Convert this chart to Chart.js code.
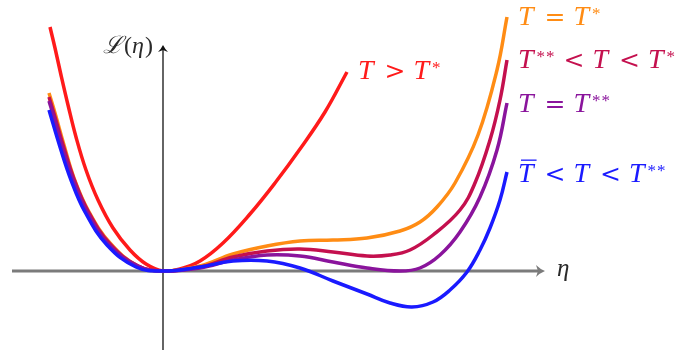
<!DOCTYPE html>
<html>
<head>
<meta charset="utf-8">
<script src="https://cdn.jsdelivr.net/npm/chart.js@4.4.1/dist/chart.umd.min.js"></script>
<style>
  html, body { margin: 0; padding: 0; background: #fff; }
  #wrap { width: 681px; height: 354px; position: relative; }
</style>
</head>
<body>
<div id="wrap"><canvas id="LandauChart"></canvas></div>
<script>
// eta / L(eta) values, one pair of arrays per curve
const etaRed = [-1.13, -1.08, -1.02, -0.95, -0.87, -0.77, -0.65, -0.50, -0.33, -0.17, 0, 0.17, 0.37, 0.60, 0.87, 1.12, 1.37, 1.62, 1.84];
const lossRed = [2.44, 2.23, 1.96, 1.66, 1.34, 1.01, 0.71, 0.43, 0.21, 0.07, 0, 0.02, 0.10, 0.28, 0.57, 0.88, 1.22, 1.59, 1.99];

const etaOrange = [-1.14, -1.08, -0.99, -0.89, -0.75, -0.53, -0.25, 0, 0.37, 0.70, 1.04, 1.37, 1.70, 2.04, 2.37, 2.57, 2.74, 2.92, 3.15, 3.34, 3.44];
const lossOrange = [1.78, 1.58, 1.26, 0.93, 0.61, 0.28, 0.05, 0, 0.05, 0.17, 0.25, 0.30, 0.31, 0.33, 0.40, 0.49, 0.64, 0.88, 1.36, 2.01, 2.54];

const etaCrimson = [-1.14, -1.08, -0.99, -0.89, -0.75, -0.53, -0.25, 0, 0.37, 0.70, 1.04, 1.37, 1.70, 2.04, 2.27, 2.47, 2.70, 2.97, 3.12, 3.27, 3.37, 3.44];
const lossCrimson = [1.74, 1.54, 1.23, 0.92, 0.60, 0.27, 0.05, 0, 0.04, 0.14, 0.20, 0.22, 0.19, 0.15, 0.16, 0.21, 0.36, 0.61, 0.88, 1.31, 1.71, 2.11];

const etaPurple = [-1.14, -1.08, -1.00, -0.90, -0.76, -0.54, -0.25, 0, 0.37, 0.70, 1.04, 1.37, 1.70, 2.04, 2.37, 2.57, 2.77, 2.97, 3.17, 3.34, 3.44];
const lossPurple = [1.70, 1.50, 1.21, 0.91, 0.59, 0.26, 0.05, 0, 0.03, 0.11, 0.16, 0.15, 0.09, 0.03, 0, 0.03, 0.16, 0.39, 0.74, 1.21, 1.68];

const etaBlue = [-1.14, -1.03, -0.92, -0.78, -0.56, -0.27, 0, 0.37, 0.70, 1.04, 1.37, 1.70, 2.04, 2.27, 2.49, 2.70, 2.87, 3.04, 3.17, 3.27, 3.37, 3.44];
const lossBlue = [1.61, 1.24, 0.91, 0.59, 0.26, 0.04, 0, 0.04, 0.10, 0.10, 0.03, -0.10, -0.23, -0.32, -0.36, -0.31, -0.19, -0.01, 0.21, 0.43, 0.71, 0.99];

// curve labels (T = italic, * = superscript, \u0304 = bar over previous T)
const labelTexts = ['T > T*', 'T = T*', 'T** < T < T*', 'T = T**', 'T\u0304 < T < T**'];

const colRed = '#ff1a1a';
const colOrange = '#ff8c14';
const colCrimson = '#c4104e';
const colPurple = '#8a149c';
const colBlue = '#1a1aff';

function pts(xs, ys) {
  return xs.map((v, i) => ({x: v, y: ys[i]}));
}

function drawMath(ctx, text, x, y, color, size) {
  const fam = '"Liberation Serif", "Times New Roman", serif';
  let cx = x;
  let lastT = null;
  ctx.fillStyle = color;
  ctx.strokeStyle = color;
  ctx.textBaseline = 'alphabetic';
  ctx.textAlign = 'left';
  for (const ch of text) {
    if (ch === ' ') {
      cx += 8;
    } else if (ch === '*') {
      ctx.font = '17px ' + fam;
      ctx.fillText('*', cx, y - 6);
      cx += ctx.measureText('*').width + 1;
    } else if (ch === '\u0304') {
      ctx.lineWidth = 1.3;
      ctx.beginPath();
      ctx.moveTo(lastT.x + 3, y - size * 0.78);
      ctx.lineTo(lastT.x + lastT.w + 3, y - size * 0.78);
      ctx.stroke();
    } else if (ch === 'T') {
      ctx.font = 'italic ' + size + 'px ' + fam;
      ctx.fillText('T', cx, y);
      const w = ctx.measureText('T').width;
      lastT = {x: cx, w: w};
      cx += w + 3;
    } else {
      ctx.font = '25px "DejaVu Serif", serif';
      ctx.fillText(ch, cx, y);
      cx += ctx.measureText(ch).width;
    }
  }
}

const axesPlugin = {
  id: 'axes',
  beforeDatasetsDraw(chart) {
    const {ctx, scales: {x, y}} = chart;
    const x0 = x.getPixelForValue(0);
    const y0 = y.getPixelForValue(0);
    const xl = x.getPixelForValue(-1.51);
    const xr = x.getPixelForValue(3.82);
    const yb = y.getPixelForValue(-0.79);
    const yt = y.getPixelForValue(2.26);
    ctx.save();
    // eta axis
    ctx.strokeStyle = '#7b7b7b';
    ctx.fillStyle = '#7b7b7b';
    ctx.lineWidth = 3;
    ctx.beginPath();
    ctx.moveTo(xl, y0);
    ctx.lineTo(xr - 5, y0);
    ctx.stroke();
    ctx.beginPath();
    ctx.moveTo(xr, y0);
    ctx.quadraticCurveTo(xr - 5, y0 - 2, xr - 9, y0 - 6);
    ctx.lineTo(xr - 7, y0);
    ctx.lineTo(xr - 9, y0 + 6);
    ctx.quadraticCurveTo(xr - 5, y0 + 2, xr, y0);
    ctx.fill();
    // L axis
    ctx.strokeStyle = '#111';
    ctx.fillStyle = '#111';
    ctx.lineWidth = 1.3;
    ctx.beginPath();
    ctx.moveTo(x0, yb);
    ctx.lineTo(x0, yt + 3);
    ctx.stroke();
    ctx.beginPath();
    ctx.moveTo(x0, yt);
    ctx.quadraticCurveTo(x0 - 2, yt + 4, x0 - 5, yt + 7);
    ctx.lineTo(x0, yt + 5);
    ctx.lineTo(x0 + 5, yt + 7);
    ctx.quadraticCurveTo(x0 + 2, yt + 4, x0, yt);
    ctx.fill();
    ctx.restore();
  },
  afterDatasetsDraw(chart) {
    const {ctx, scales: {x, y}} = chart;
    ctx.save();
    const size = 28;
    drawMath(ctx, labelTexts[0], x.getPixelForValue(1.95), y.getPixelForValue(1.92), colRed, size);
    drawMath(ctx, labelTexts[1], x.getPixelForValue(3.55), y.getPixelForValue(2.46), colOrange, size);
    drawMath(ctx, labelTexts[2], x.getPixelForValue(3.55), y.getPixelForValue(2.03), colCrimson, size);
    drawMath(ctx, labelTexts[3], x.getPixelForValue(3.55), y.getPixelForValue(1.59), colPurple, size);
    drawMath(ctx, labelTexts[4], x.getPixelForValue(3.55), y.getPixelForValue(0.89), colBlue, size);

    // axis names
    ctx.fillStyle = '#2a2a2a';
    let lx = x.getPixelForValue(-0.60);
    const ly = y.getPixelForValue(2.18);
    ctx.font = 'italic 24px "DejaVu Serif", serif';
    ctx.fillText('\u2112', lx, ly);
    lx += ctx.measureText('\u2112').width + 1;
    ctx.font = '24px "Liberation Serif", serif';
    ctx.fillText('(', lx, ly);
    lx += ctx.measureText('(').width;
    ctx.font = 'italic 24px "Liberation Serif", serif';
    ctx.fillText('\u03b7', lx, ly);
    lx += ctx.measureText('\u03b7').width + 1;
    ctx.font = '24px "Liberation Serif", serif';
    ctx.fillText(')', lx, ly);

    ctx.font = 'italic 25px "Liberation Serif", serif';
    ctx.fillText('\u03b7', x.getPixelForValue(3.94), y.getPixelForValue(-0.05));
    ctx.restore();
  }
};

function curve(label, data, color, order) {
  return {
    label: label,
    data: data,
    borderColor: color,
    backgroundColor: color,
    borderWidth: 3.5,
    pointRadius: 0,
    tension: 0.4,
    fill: false,
    order: order
  };
}

const data = {
  datasets: [
    curve(labelTexts[0], pts(etaRed, lossRed), colRed, 4),
    curve(labelTexts[1], pts(etaOrange, lossOrange), colOrange, 3),
    curve(labelTexts[2], pts(etaCrimson, lossCrimson), colCrimson, 2),
    curve(labelTexts[3], pts(etaPurple, lossPurple), colPurple, 1),
    curve(labelTexts[4], pts(etaBlue, lossBlue), colBlue, 0)
  ]
};

const config = {
  type: 'line',
  data: data,
  options: {
    responsive: true,
    maintainAspectRatio: false,
    animation: false,
    layout: { padding: 0 },
    plugins: {
      legend: { display: false },
      tooltip: { enabled: false }
    },
    scales: {
      x: { type: 'linear', min: -1.63, max: 5.18, display: false },
      y: { type: 'linear', min: -0.83, max: 2.71, display: false }
    }
  },
  plugins: [axesPlugin]
};

const myChart = new Chart(document.getElementById('LandauChart'), config);
</script>
</body>
</html>
